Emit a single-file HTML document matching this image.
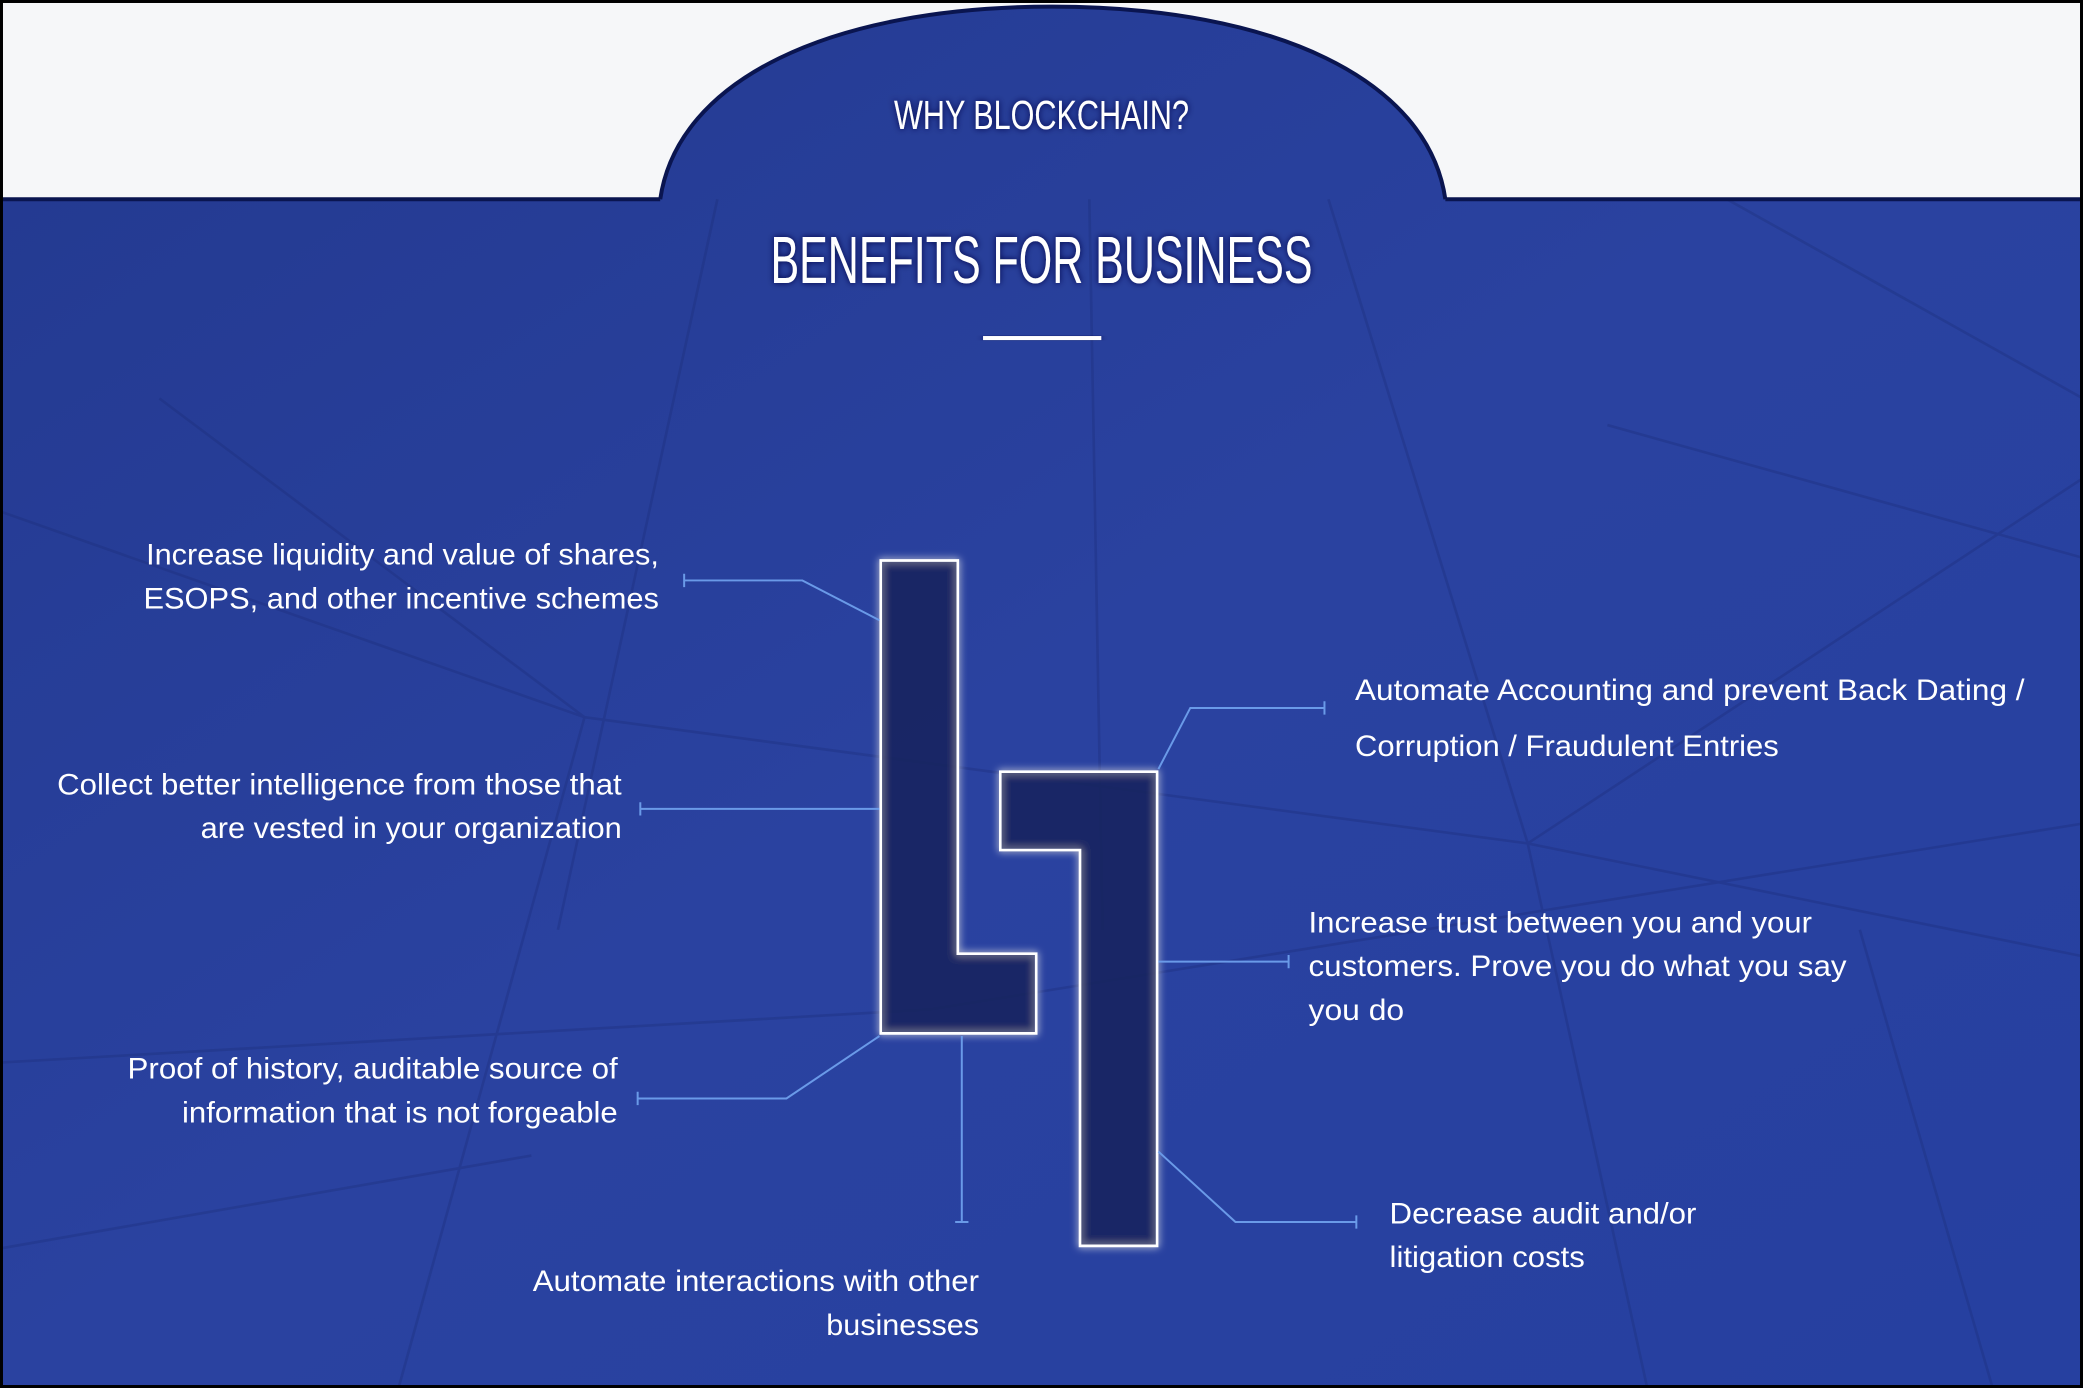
<!DOCTYPE html>
<html><head><meta charset="utf-8"><style>html,body{margin:0;padding:0;background:#fff}svg{display:block}</style></head><body>
<svg width="2083" height="1388" viewBox="0 0 1568 1045" preserveAspectRatio="none" xmlns="http://www.w3.org/2000/svg">
<defs>
<linearGradient id="bg" x1="0" y1="0" x2="1" y2="1">
<stop offset="0" stop-color="#23398f"/><stop offset="0.5" stop-color="#2a42a0"/><stop offset="1" stop-color="#2640a0"/>
</linearGradient>
<filter id="glow" x="-20%" y="-20%" width="140%" height="140%"><feGaussianBlur stdDeviation="3" result="b"/><feMerge><feMergeNode in="b"/><feMergeNode in="SourceGraphic"/></feMerge></filter>
<filter id="ts"><feDropShadow dx="0" dy="0" stdDeviation="2.5" flood-color="#000844" flood-opacity="1"/></filter>
</defs>
<rect width="1568" height="1045" fill="url(#bg)"/>
<g stroke="#1a2a75" stroke-width="2" opacity="0.3" fill="none">
<path d="M0,385 L440,540 L1150,635 L1568,720"/>
<path d="M440,540 L300,1045"/><path d="M440,540 L120,300"/>
<path d="M0,800 L700,760 L1568,620"/>
<path d="M540,150 L420,700"/><path d="M820,150 L830,700"/>
<path d="M1150,635 L1240,1045"/><path d="M1150,635 L1568,360"/>
<path d="M1000,150 L1150,635"/><path d="M1210,320 L1568,420"/>
<path d="M0,940 L400,870"/><path d="M1300,150 L1568,300"/>
<path d="M1400,700 L1500,1045"/>
</g>
<path d="M0,0 H1568 V150 H1088 C1075,60 960,5 792,5 C625,5 510,60 497,150 H0 Z" fill="#f6f7f9"/>
<path d="M1088,150 C1075,60 960,5 792,5 C625,5 510,60 497,150" fill="none" stroke="#0a1550" stroke-width="3"/>
<path d="M0,150 H497 M1088,150 H1568" stroke="#0a1550" stroke-width="3"/>
<rect x="1" y="1" width="1566" height="1043" fill="none" stroke="#000" stroke-width="2.5"/>
<g fill="#fff" font-family="'Liberation Sans Narrow','Liberation Sans',sans-serif" filter="url(#ts)" text-anchor="middle">
<text x="784" y="97" font-size="31" textLength="222" lengthAdjust="spacingAndGlyphs">WHY BLOCKCHAIN?</text>
<text x="784" y="213" font-size="50" textLength="408" lengthAdjust="spacingAndGlyphs">BENEFITS FOR BUSINESS</text>
</g>
<rect x="740" y="253" width="89" height="3" fill="#fff" filter="url(#ts)"/>
<g fill="#1a2560" fill-opacity="0.7" stroke="#fff" stroke-width="2" filter="url(#glow)">
<path d="M663,422 H721 V718 H780 V778 H663 Z"/>
<path d="M753,581 H871 V938 H813 V640 H753 Z"/>
</g>
<g stroke="#6a9ae8" stroke-width="1.5" fill="none">
<path d="M515,437 H604 L662,467 M515,432 V442"/>
<path d="M482,609 H662 M482,604 V614"/>
<path d="M480,827 H592 L662,780 M480,822 V832"/>
<path d="M724,780 V920 M719,920 H729"/>
<path d="M872,579 L896,533 H997 M997,528 V538"/>
<path d="M872,724 H970 M970,719 V729"/>
<path d="M872,867 L930,920 H1021 M1021,915 V925"/>
</g>
<g fill="#fff" font-family="'Liberation Sans',sans-serif" font-size="22">
<text x="110" y="425" textLength="386" lengthAdjust="spacingAndGlyphs">Increase liquidity and value of shares,</text>
<text x="108" y="458" textLength="388" lengthAdjust="spacingAndGlyphs">ESOPS, and other incentive schemes</text>
<text x="43" y="598" textLength="425" lengthAdjust="spacingAndGlyphs">Collect better intelligence from those that</text>
<text x="151" y="631" textLength="317" lengthAdjust="spacingAndGlyphs">are vested in your organization</text>
<text x="96" y="812" textLength="369" lengthAdjust="spacingAndGlyphs">Proof of history, auditable source of</text>
<text x="137" y="845" textLength="328" lengthAdjust="spacingAndGlyphs">information that is not forgeable</text>
<text x="401" y="972" textLength="336" lengthAdjust="spacingAndGlyphs">Automate interactions with other</text>
<text x="622" y="1005" textLength="115" lengthAdjust="spacingAndGlyphs">businesses</text>
<text x="1020" y="527" textLength="504" lengthAdjust="spacingAndGlyphs">Automate Accounting and prevent Back Dating /</text>
<text x="1020" y="569" textLength="319" lengthAdjust="spacingAndGlyphs">Corruption / Fraudulent Entries</text>
<text x="985" y="702" textLength="379" lengthAdjust="spacingAndGlyphs">Increase trust between you and your</text>
<text x="985" y="735" textLength="405" lengthAdjust="spacingAndGlyphs">customers. Prove you do what you say</text>
<text x="985" y="768" textLength="72" lengthAdjust="spacingAndGlyphs">you do</text>
<text x="1046" y="921" textLength="231" lengthAdjust="spacingAndGlyphs">Decrease audit and/or</text>
<text x="1046" y="954" textLength="147" lengthAdjust="spacingAndGlyphs">litigation costs</text>
</g>
</svg>
</body></html>
